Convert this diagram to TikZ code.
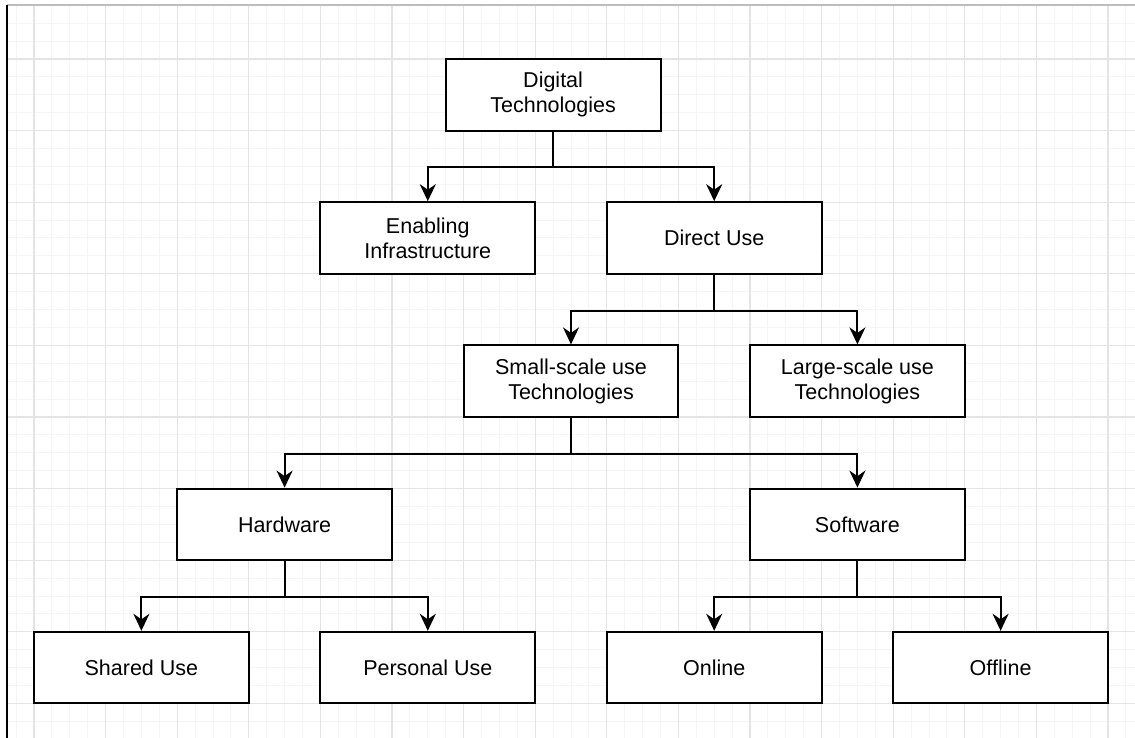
\documentclass[tikz,border=0pt]{standalone}
\usepackage{fontspec}
\setmainfont{Liberation Sans}
\usetikzlibrary{arrows.meta}
\definecolor{minorline}{HTML}{F5F5F5}
\definecolor{majorline}{HTML}{E4E4E4}
\definecolor{edgeline}{HTML}{BDBDBD}
\tikzset{
  stepbox/.style={draw=black, line width=2pt, fill=white, minimum width=214.8pt,
    minimum height=71.6pt, inner sep=0pt, align=center,
    font=\fontsize{21.5pt}{25pt}\selectfont},
  conn/.style={draw=black, line width=2pt,
    -{Stealth[length=17pt,width=16pt,inset=5.5pt]}},
  minorgrid/.style={draw=minorline, line width=1pt},
  majorgrid/.style={draw=majorline, line width=1.3pt},
}
\begin{document}
\begin{tikzpicture}[x=1pt,y=-1pt]
  \useasboundingbox (0,0) rectangle (1135,738);
  \fill[white] (0,0) rectangle (1135,738);
  % background grid: minor every 17.9, major every 71.6, anchored at (34,59)
  \begin{scope}
    \clip (7,5) rectangle (1135,738);
    \foreach \i in {-2,...,62} {
      \pgfmathsetmacro{\gx}{34+17.9*\i}
      \draw[minorgrid] (\gx,0) -- (\gx,738);
    }
    \foreach \j in {-4,...,40} {
      \pgfmathsetmacro{\gy}{59+17.9*\j}
      \draw[minorgrid] (0,\gy) -- (1135,\gy);
    }
    \foreach \i in {-1,...,16} {
      \pgfmathsetmacro{\gx}{34+71.6*\i}
      \draw[majorgrid] (\gx,0) -- (\gx,738);
    }
    \foreach \j in {-1,...,10} {
      \pgfmathsetmacro{\gy}{59+71.6*\j}
      \draw[majorgrid] (0,\gy) -- (1135,\gy);
    }
  \end{scope}
  \draw[edgeline, line width=1.2pt] (7,5) -- (1135,5);
  \draw[black, line width=1.5pt] (7,5) -- (7,738);

  % boxes
  \node[stepbox] (dt) at (553.1,94.8) {Digital\\Technologies};
  \node[stepbox] (ei) at (427.8,238) {Enabling\\Infrastructure};
  \node[stepbox] (du) at (714.2,238) {Direct Use};
  \node[stepbox] (ss) at (571,381.2) {Small-scale use\\Technologies};
  \node[stepbox] (ls) at (857.4,381.2) {Large-scale use\\Technologies};
  \node[stepbox] (hw) at (284.6,524.4) {Hardware};
  \node[stepbox] (sw) at (857.4,524.4) {Software};
  \node[stepbox] (shared) at (141.4,667.6) {Shared Use};
  \node[stepbox] (personal) at (427.8,667.6) {Personal Use};
  \node[stepbox] (online) at (714.2,667.6) {Online};
  \node[stepbox] (offline) at (1000.6,667.6) {Offline};

  % connectors
  \draw[conn] (dt.south) -- ++(0,35.8) -| (ei.north);
  \draw[conn] (dt.south) -- ++(0,35.8) -| (du.north);
  \draw[conn] (du.south) -- ++(0,35.8) -| (ss.north);
  \draw[conn] (du.south) -- ++(0,35.8) -| (ls.north);
  \draw[conn] (ss.south) -- ++(0,35.8) -| (hw.north);
  \draw[conn] (ss.south) -- ++(0,35.8) -| (sw.north);
  \draw[conn] (hw.south) -- ++(0,35.8) -| (shared.north);
  \draw[conn] (hw.south) -- ++(0,35.8) -| (personal.north);
  \draw[conn] (sw.south) -- ++(0,35.8) -| (online.north);
  \draw[conn] (sw.south) -- ++(0,35.8) -| (offline.north);
\end{tikzpicture}
\end{document}
